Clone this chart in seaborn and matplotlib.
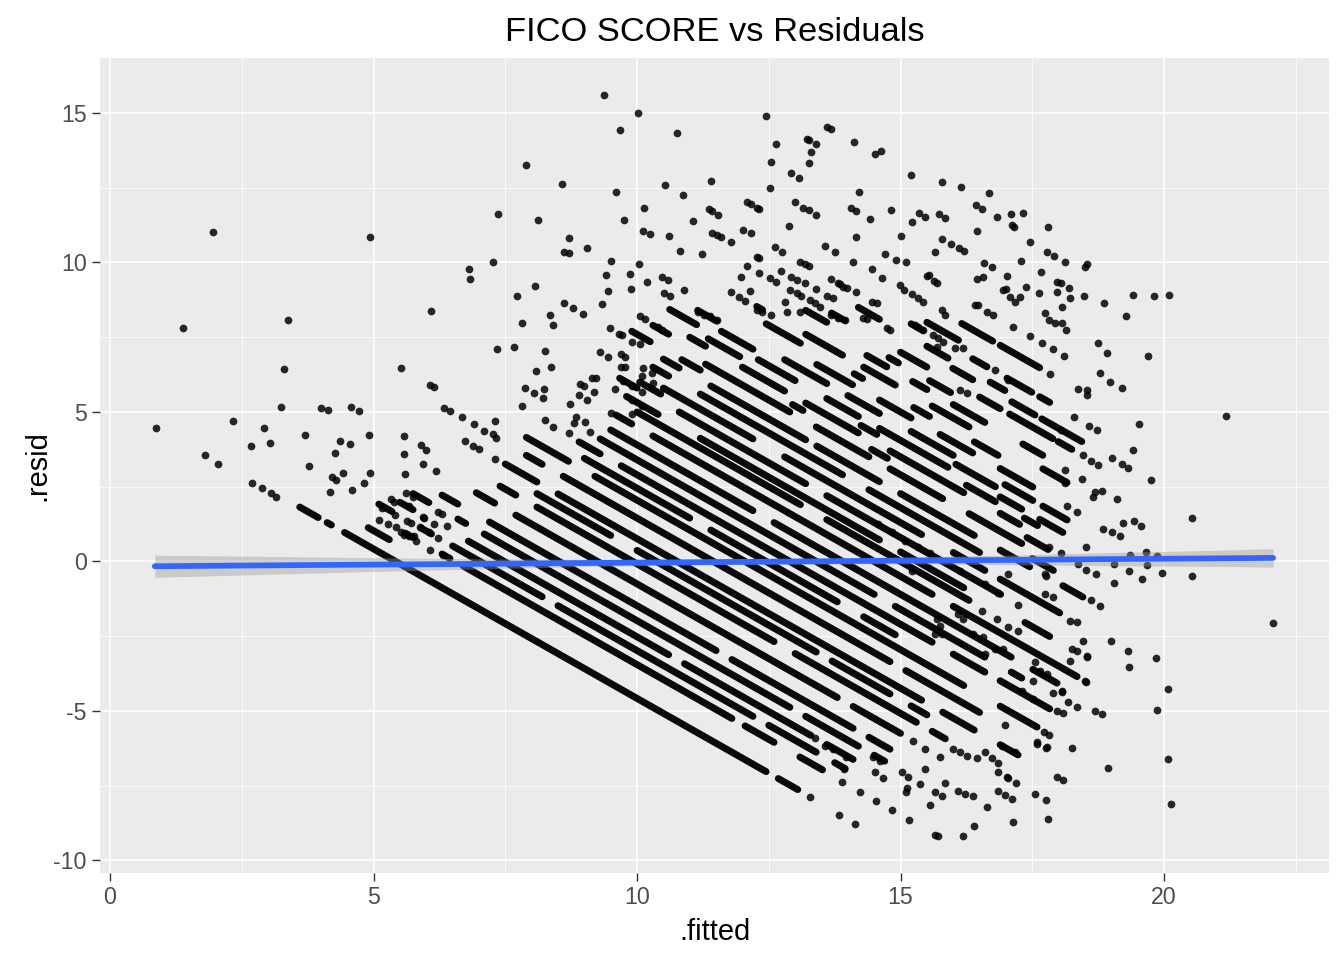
import matplotlib
matplotlib.use("Agg")
import matplotlib.pyplot as plt
import numpy as np
import pandas as pd
import seaborn as sns
from matplotlib.ticker import MultipleLocator

# ---------------- data ----------------
# dense diagonal streaks: (actual rate, fitted from, fitted to); resid = rate - fitted
low_streaks = [
    (5.42, 3.60, 3.95), (5.42, 4.12, 4.20), (5.42, 4.45, 12.45), (5.42, 12.68, 13.05),
    (6.03, 4.90, 5.30),
    (6.55, 5.60, 5.75), (6.55, 6.30, 6.45), (6.55, 6.70, 11.80), (6.55, 12.05, 12.60), (6.55, 13.09, 13.52),
    (7.02, 5.10, 5.35), (7.02, 5.90, 6.10), (7.02, 6.50, 8.20), (7.02, 8.50, 12.20), (7.02, 12.50, 13.40), (7.02, 13.75, 13.95),
    (7.48, 5.50, 5.75), (7.48, 6.80, 10.60), (7.48, 10.90, 13.30), (7.48, 13.60, 14.10),
    (8.02, 5.75, 6.05), (8.02, 6.60, 6.75), (8.02, 7.10, 12.90), (8.02, 13.20, 14.20), (8.02, 14.50, 14.70),
    (8.52, 6.30, 6.60), (8.52, 7.20, 11.50), (8.52, 11.80, 14.10), (8.52, 14.40, 14.80),
    (9.25, 6.95, 7.30), (9.25, 7.70, 13.80), (9.25, 14.10, 15.00),
    (9.92, 7.40, 7.70), (9.92, 8.10, 12.60), (9.92, 13.00, 15.30), (9.92, 15.60, 15.85),
    (10.37, 8.10, 9.50), (10.37, 10.00, 13.40), (10.37, 13.70, 14.80), (10.37, 15.20, 15.50),
    (10.76, 7.50, 8.10), (10.76, 8.50, 15.40), (10.76, 15.80, 16.40), (10.76, 16.89, 17.23),
    (11.45, 7.90, 8.20), (11.45, 8.60, 14.80), (11.45, 15.10, 16.50),
]
mid_streaks = [
    (12.05, 7.90, 8.70), (12.05, 9.20, 16.20), (12.05, 16.89, 17.59),
    (12.45, 9.00, 11.00), (12.45, 11.40, 13.80), (12.45, 14.30, 14.90),
    (12.90, 8.90, 9.30), (12.90, 9.70, 15.60), (12.90, 16.00, 16.60), (12.90, 16.89, 17.83),
    (13.40, 9.30, 14.50), (13.40, 14.90, 16.60), (13.40, 17.10, 17.30),
    (13.90, 9.50, 12.20), (13.90, 12.60, 17.10), (13.90, 17.51, 17.97),
    (14.50, 9.60, 9.90), (14.50, 10.30, 15.60), (14.50, 16.00, 18.35),
    (15.00, 10.00, 13.10), (15.00, 13.60, 16.30),
    (15.32, 9.80, 10.40), (15.32, 11.20, 14.60), (15.32, 15.00, 16.20), (15.32, 17.36, 17.83),
    (15.80, 9.67, 10.00), (15.80, 10.80, 13.20), (15.80, 13.60, 16.90),
    (16.05, 10.05, 10.45),
    (16.30, 10.50, 12.20), (16.30, 12.80, 15.40), (16.30, 16.00, 16.60), (16.30, 16.89, 18.02),
    (16.80, 10.30, 10.60), (16.80, 11.20, 13.90), (16.80, 14.40, 16.50),
    (17.27, 10.50, 10.80), (17.27, 11.40, 13.20), (17.27, 13.41, 14.60), (17.27, 15.00, 16.40),
    (17.27, 16.89, 17.45), (17.27, 18.08, 18.46),
    (17.60, 9.90, 10.25), (17.60, 10.85, 11.20), (17.60, 17.50, 17.90),
]
high_streaks = [
    (17.90, 11.30, 12.90), (17.90, 13.40, 14.40), (17.90, 14.80, 15.80), (17.90, 16.30, 17.30),
    (18.20, 10.30, 10.60), (18.20, 12.95, 13.15), (18.20, 14.45, 14.75), (18.20, 17.40, 17.80),
    (18.50, 11.00, 11.30), (18.50, 12.00, 12.80), (18.50, 13.20, 14.20), (18.50, 14.80, 16.20), (18.50, 16.89, 17.26),
    (18.80, 11.35, 11.95), (18.80, 14.25, 14.55), (18.80, 16.25, 16.80), (18.80, 17.35, 17.60),
    (19.05, 10.62, 11.13), (19.05, 12.30, 13.00), (19.05, 13.60, 14.20), (19.05, 14.60, 15.90),
    (19.05, 16.89, 17.30), (19.05, 17.64, 18.08),
    (19.30, 11.60, 12.20), (19.30, 16.05, 16.80),
    (19.55, 11.15, 11.51), (19.55, 12.80, 13.60), (19.55, 14.00, 14.60), (19.55, 15.20, 16.00),
    (19.55, 16.98, 17.51), (19.55, 17.70, 18.16),
    (20.00, 13.41, 14.09), (20.00, 14.60, 15.20), (20.00, 15.75, 16.37), (20.00, 16.89, 17.51),
    (20.40, 12.45, 13.10), (20.40, 14.12, 14.28), (20.40, 15.25, 15.55), (20.40, 16.40, 16.85),
    (20.80, 12.27, 12.38), (20.80, 13.20, 13.90), (20.80, 14.30, 14.90), (20.80, 15.60, 16.30), (20.80, 17.70, 18.16),
    (21.25, 14.36, 14.74), (21.25, 15.23, 15.50), (21.25, 16.00, 16.60), (21.25, 17.32, 17.70),
    (21.60, 13.20, 13.60), (21.60, 14.78, 14.96), (21.60, 15.55, 15.95),
    (22.00, 13.69, 13.94), (22.00, 15.00, 15.50), (22.00, 16.50, 16.89), (22.00, 17.07, 17.89), (22.00, 17.99, 18.25),
    (22.45, 15.99, 16.37), (22.45, 17.11, 17.55), (22.45, 17.68, 18.44),
    (22.70, 14.20, 14.60), (22.70, 15.50, 15.90), (22.70, 16.70, 16.98),
    (23.15, 15.20, 15.42), (23.15, 16.37, 16.64), (23.15, 17.02, 17.49), (23.15, 17.64, 17.83),
    (23.50, 15.50, 16.10),
    (24.12, 16.16, 16.75), (24.12, 16.89, 17.64),
]

# isolated points: (fitted, resid)
left_points = [
    (0.87, 4.48), (1.39, 7.82), (1.96, 11.02), (1.80, 3.57), (2.05, 3.27), (2.34, 4.71),
    (2.68, 3.87), (2.92, 4.48), (3.04, 3.97), (2.70, 2.64), (2.89, 2.47), (3.06, 2.30),
    (3.15, 2.17), (3.30, 6.45), (3.38, 8.08), (3.25, 5.18), (3.70, 4.24), (3.78, 3.21),
    (4.01, 5.14), (4.14, 5.08), (4.27, 3.64), (4.37, 4.04), (4.43, 2.97), (4.56, 3.94),
    (4.58, 5.18), (4.73, 5.04), (4.81, 2.61), (4.92, 4.24), (4.94, 2.97), (4.60, 2.40),
    (4.18, 2.34), (4.22, 2.81), (4.29, 2.74), (4.94, 10.86), (5.53, 6.48), (6.10, 8.38),
    (6.08, 5.91), (6.15, 5.84), (6.34, 5.14), (6.46, 5.04), (5.57, 4.18), (5.57, 3.61),
    (5.60, 2.91), (5.91, 3.91), (6.00, 3.74), (5.93, 3.27), (6.19, 3.01), (5.17, 1.80),
    (5.34, 2.10), (5.39, 2.00), (5.41, 1.57), (5.11, 1.40), (5.62, 2.30), (5.74, 2.17),
    (5.68, 1.84), (5.64, 1.34), (5.72, 1.30), (5.93, 1.50), (5.96, 1.47), (5.89, 1.14),
    (6.06, 0.97), (6.23, 1.67), (6.29, 1.60), (6.15, 1.27), (6.23, 0.80), (5.77, 0.84),
    (5.81, 0.67), (6.08, 0.37), (6.31, 0.23), (6.40, 1.20), (5.28, 1.27), (5.43, 1.14),
    (5.53, 1.00), (5.58, 0.90), (5.68, 0.84),
]
middle_left_points = [
    (6.67, 4.84), (6.91, 4.61), (7.10, 4.38), (7.26, 4.28), (7.33, 4.14), (6.74, 4.04),
    (6.88, 3.87), (7.01, 3.77), (7.31, 4.71), (7.31, 3.44), (7.73, 8.88), (8.07, 9.22),
    (7.81, 7.98), (8.34, 8.25), (8.40, 7.92), (8.62, 8.65), (8.79, 8.48), (8.98, 8.28),
    (9.34, 8.62), (9.42, 9.59), (9.44, 9.05), (9.86, 9.62), (9.88, 9.12), (10.18, 9.35),
    (10.48, 9.52), (10.58, 9.42), (10.90, 9.08), (10.52, 8.98), (10.62, 8.88), (9.48, 7.82),
    (9.65, 7.62), (9.71, 7.58), (7.67, 7.18), (7.35, 7.11), (8.26, 7.05), (8.09, 6.38),
    (8.36, 6.51), (7.88, 5.81), (8.05, 5.64), (8.24, 5.78), (8.21, 5.48), (7.81, 5.21),
    (8.72, 5.28), (9.29, 7.01), (9.44, 6.85), (9.69, 6.95), (9.78, 6.85), (8.91, 5.95),
    (9.00, 5.88), (8.89, 5.58), (9.06, 5.41), (9.19, 5.68), (9.15, 6.15), (9.23, 6.15),
    (9.59, 5.78), (8.26, 4.74), (8.40, 4.51), (8.85, 4.84), (8.81, 4.64), (9.02, 4.68),
    (9.10, 4.34), (8.70, 4.31), (9.50, 4.98), (9.91, 4.94), (9.90, 5.41), (10.10, 5.68),
    (10.09, 5.21), (10.09, 6.21), (10.29, 6.31), (10.31, 5.98), (10.12, 6.48), (9.74, 6.05),
    (9.91, 5.88), (10.05, 8.22), (10.16, 8.12), (10.39, 7.85), (10.48, 7.75), (9.91, 7.35),
    (10.05, 7.28), (9.69, 6.51), (9.78, 6.51),
]
top_points = [
    (9.38, 15.60), (10.01, 15.00), (9.67, 14.43), (10.75, 14.33), (12.44, 14.90), (12.63, 13.96),
    (12.54, 13.36), (12.52, 12.49), (13.22, 14.13), (13.26, 14.09), (13.39, 13.96), (13.30, 13.69),
    (13.26, 13.33), (13.60, 14.53), (13.68, 14.46), (14.11, 14.03), (14.51, 13.63), (14.62, 13.73),
    (12.92, 12.99), (13.07, 12.83), (14.21, 12.36), (7.90, 13.26), (8.57, 12.63), (9.61, 12.36),
    (10.54, 12.59), (11.40, 12.73), (10.88, 12.26), (7.37, 11.62), (8.13, 11.42), (8.70, 10.82),
    (8.62, 10.35), (8.70, 10.32), (9.06, 10.49), (9.76, 11.42), (10.14, 11.82), (10.12, 11.06),
    (10.24, 10.96), (10.60, 10.89), (10.81, 10.39), (11.07, 11.39), (11.23, 10.29), (11.36, 11.79),
    (11.43, 11.72), (11.53, 11.59), (11.43, 10.99), (11.51, 10.92), (11.59, 10.86), (11.78, 10.69),
    (12.08, 12.02), (12.16, 11.96), (12.27, 11.82), (12.31, 11.79), (12.02, 11.09), (12.17, 10.99),
    (12.27, 10.19), (12.31, 10.15), (12.08, 9.89), (12.61, 10.52), (12.76, 10.35), (12.88, 11.22),
    (12.99, 12.02), (13.14, 11.82), (13.26, 11.76), (13.39, 11.59), (13.56, 10.55), (13.75, 10.35),
    (14.06, 11.82), (14.15, 11.72), (14.42, 11.46), (14.15, 10.86), (14.70, 10.29), (14.09, 10.02),
    (13.09, 10.02), (13.18, 9.95), (13.26, 9.89), (12.74, 9.72), (12.92, 9.52), (13.03, 9.42),
    (13.18, 9.32), (12.52, 9.49), (12.63, 9.35), (13.68, 9.45), (13.85, 9.29), (13.98, 9.15),
    (14.45, 9.79), (14.64, 9.49), (14.15, 9.02), (13.39, 9.12), (12.90, 9.08), (13.03, 8.98),
    (11.97, 9.52), (12.31, 9.65), (12.14, 9.05), (11.78, 9.02), (11.93, 8.85), (10.03, 9.95),
    (9.50, 10.05), (7.26, 10.02), (6.82, 9.79), (6.84, 9.45),
]
top_right_points = [
    (15.19, 12.93), (15.78, 12.69), (16.14, 12.53), (16.68, 12.32), (14.81, 11.76), (15.35, 11.66),
    (15.46, 11.52), (15.73, 11.62), (15.84, 11.49), (16.43, 11.92), (16.54, 11.79), (16.83, 11.52),
    (17.09, 11.62), (17.32, 11.66), (17.11, 11.26), (17.15, 11.19), (17.80, 11.19), (15.21, 11.36),
    (15.00, 10.89), (15.78, 10.79), (15.95, 10.62), (16.11, 10.49), (16.20, 10.39), (16.45, 11.06),
    (15.65, 10.35), (14.91, 10.09), (15.10, 10.02), (17.45, 10.69), (17.78, 10.35), (17.91, 10.22),
    (18.12, 10.02), (18.50, 9.85), (18.54, 9.95), (17.28, 10.05), (16.58, 9.99), (16.73, 9.85),
    (17.02, 9.55), (16.45, 9.45), (16.56, 9.52), (17.66, 9.69), (17.38, 9.19), (17.00, 9.12),
    (15.50, 9.55), (15.54, 9.59), (15.63, 9.39), (15.69, 9.32), (14.99, 9.25), (15.06, 9.08),
    (15.21, 8.95), (17.97, 9.35), (18.04, 9.32), (18.20, 9.15), (17.63, 8.98), (17.97, 9.02),
    (19.41, 8.92), (19.81, 8.88), (20.09, 8.92), (18.48, 8.88), (17.07, 8.85), (17.26, 8.85),
]
center_points = [
    (12.04, 8.72), (12.80, 8.68), (13.12, 8.88), (13.28, 8.75), (13.37, 8.65), (13.47, 8.52),
    (13.60, 8.88), (13.71, 8.82), (13.81, 9.32), (13.90, 9.18), (14.45, 8.68), (14.55, 8.65),
    (15.33, 8.82), (15.42, 8.68), (16.41, 8.58), (16.47, 8.58), (15.78, 8.42), (15.84, 8.25),
    (11.15, 8.35), (11.28, 8.25), (11.38, 8.22), (11.51, 8.08), (12.27, 8.42), (12.38, 8.35),
    (12.55, 8.25), (12.84, 8.35), (13.09, 8.35), (13.69, 8.25), (13.81, 8.15), (13.94, 8.08),
    (14.28, 8.15), (14.36, 8.12), (14.74, 7.82), (14.80, 7.75), (15.27, 7.92), (15.33, 7.85),
    (15.42, 7.75), (15.61, 7.58), (15.71, 7.48), (15.80, 7.35), (16.64, 8.35), (16.75, 8.25),
    (16.03, 7.15), (16.18, 7.15), (15.69, 7.18), (16.79, 6.41), (17.04, 6.08), (16.13, 5.74),
    (16.26, 5.64),
]
right_points = [
    (18.21, 8.82), (18.86, 8.65), (19.28, 8.22), (18.06, 8.52), (17.74, 8.32), (17.82, 8.08),
    (17.93, 7.98), (18.06, 7.98), (18.14, 7.75), (17.13, 7.85), (17.45, 7.55), (17.68, 7.31),
    (17.89, 7.11), (18.10, 6.88), (18.75, 7.31), (18.92, 6.98), (19.70, 6.88), (17.83, 6.28),
    (18.37, 5.78), (18.54, 5.74), (18.54, 5.58), (18.78, 6.31), (18.97, 6.01), (19.20, 5.81),
    (21.18, 4.88), (18.29, 4.84), (19.53, 4.61), (18.58, 4.54), (18.73, 4.41), (18.04, 4.41),
    (19.41, 3.74), (19.01, 3.47), (19.20, 3.27), (19.32, 3.14), (19.75, 2.71), (18.46, 3.57),
    (18.61, 3.37), (18.75, 3.24), (18.44, 2.77), (18.12, 3.07), (18.12, 2.64), (18.69, 2.34),
    (18.82, 2.37), (18.65, 2.14), (19.11, 2.10), (20.53, 1.47), (18.16, 1.84), (18.35, 1.67),
    (19.22, 1.30), (19.43, 1.34), (19.56, 1.20), (18.84, 1.10), (19.01, 1.00), (19.16, 0.84),
    (18.52, 0.50), (19.66, 0.33), (19.35, 0.23), (19.87, 0.17), (19.05, -0.07), (19.68, -0.13),
    (19.34, -0.33), (19.58, -0.57), (19.96, -0.40), (20.53, -0.50), (18.71, -0.43), (18.52, -0.27),
    (19.05, -0.73), (18.61, -1.30), (18.78, -1.50), (17.76, -0.47), (18.37, -0.10), (18.04, 0.27),
    (17.82, 0.47), (16.94, 9.08), (17.17, 8.68),
]
lower_right_points = [
    (22.07, -2.07), (18.99, -2.67), (19.32, -3.00), (19.34, -3.54), (19.85, -3.24), (20.08, -4.28),
    (19.87, -4.98), (20.08, -6.61), (20.13, -8.12), (18.94, -6.91), (18.69, -5.01), (18.82, -5.11),
    (18.52, -4.04), (18.54, -3.21), (18.46, -2.67), (18.25, -6.25), (17.97, -7.21), (18.08, -7.31),
    (17.55, -7.78), (17.76, -7.98), (17.80, -8.62), (17.13, -8.72), (17.59, -6.11), (17.76, -6.25),
    (17.72, -5.71), (17.82, -5.81), (16.98, -7.82), (17.11, -7.95), (17.04, -7.25), (17.19, -7.41),
    (16.98, -5.48), (18.25, -2.94), (18.35, -3.00), (18.21, -3.34), (18.18, -4.71), (18.35, -4.88),
    (18.06, -4.38), (17.89, -4.41), (17.97, -5.01), (18.08, -5.08),
]
bottom_points = [
    (13.28, -7.88), (13.83, -8.48), (14.13, -8.78), (13.88, -7.38), (13.92, -6.95), (13.96, -6.55),
    (14.23, -7.72), (14.53, -8.02), (14.83, -8.32), (15.16, -8.65), (15.65, -9.15), (15.71, -9.18),
    (16.18, -9.18), (16.39, -8.85), (16.64, -8.22), (15.56, -8.15), (15.78, -7.85), (15.65, -7.72),
    (16.09, -7.68), (16.22, -7.78), (16.37, -7.85), (15.84, -7.41), (15.12, -7.58), (15.10, -7.72),
    (15.02, -7.05), (15.14, -7.21), (15.37, -7.45), (15.46, -6.95), (14.51, -7.05), (14.66, -7.25),
    (14.47, -6.55), (14.61, -6.68), (13.37, -5.91), (13.56, -6.18), (13.71, -6.28), (16.85, -7.05),
    (17.02, -7.21), (16.60, -6.38), (16.73, -6.58), (16.85, -6.75), (16.00, -6.28), (16.13, -6.38),
    (16.26, -6.51), (16.45, -6.58), (16.92, -6.18), (17.17, -6.38), (15.23, -6.01), (15.46, -6.28),
    (15.75, -6.55), (16.85, -7.68),
]
mid_right_points = [
    (15.21, -0.33), (16.13, -0.33), (17.04, -0.43), (17.74, -0.43), (16.85, -1.04), (17.23, -1.44),
    (16.54, -1.67), (16.83, -1.94), (17.04, -2.20), (17.23, -2.34), (17.74, -1.10), (17.89, -1.20),
    (18.21, -2.00), (18.35, -2.04), (18.54, -3.17), (18.50, -4.01), (15.56, 0.30), (15.33, 0.47),
    (15.08, 0.67), (14.83, 0.97), (14.57, 1.24), (16.60, -0.77), (15.69, -1.94), (15.75, -2.17),
    (16.09, -1.77), (16.18, -1.94), (15.65, -2.44), (15.78, -2.44), (16.37, -2.44), (16.56, -2.54),
    (16.79, -2.94), (16.94, -2.94), (16.60, -3.11), (17.55, -3.37), (17.64, -3.67), (17.78, -3.77),
    (17.51, -4.01), (18.06, -4.34), (17.30, -4.34), (17.51, -4.61), (17.59, -6.05), (17.78, -6.21),
]

# linear smooth (geom_smooth, method = lm) with its confidence band
fit_x = [0.85, 3.0, 5.0, 7.0, 9.0, 11.0, 13.0, 15.0, 17.0, 19.0, 21.0, 22.07]
fit_y = [-0.16, -0.13, -0.105, -0.08, -0.05, -0.025, 0.0, 0.03, 0.05, 0.08, 0.105, 0.12]
fit_lo = [-0.53, -0.43, -0.335, -0.25, -0.17, -0.115, -0.09, -0.08, -0.11, -0.14, -0.165, -0.19]
fit_hi = [0.21, 0.17, 0.125, 0.09, 0.07, 0.065, 0.09, 0.14, 0.21, 0.30, 0.375, 0.43]

x_ticks = [0, 5, 10, 15, 20]
y_ticks = [-10, -5, 0, 5, 10, 15]
title = "FICO SCORE vs Residuals"
x_label = ".fitted"
y_label = ".resid"

# ---------------- build tables ----------------
seg_rows = []
for i, (rate, f0, f1) in enumerate(low_streaks + mid_streaks + high_streaks):
    seg_rows.append((i, f0, rate - f0))
    seg_rows.append((i, f1, rate - f1))
streak_df = pd.DataFrame(seg_rows, columns=["seg", "fitted", "resid"])

all_points = (left_points + middle_left_points + top_points + top_right_points + center_points
              + right_points + lower_right_points + bottom_points + mid_right_points)
point_df = pd.DataFrame(all_points, columns=["fitted", "resid"])

# ---------------- style ----------------
sns.set_theme(style="darkgrid", rc={
    "axes.facecolor": "#EBEBEB",
    "figure.facecolor": "white",
    "grid.color": "white",
    "axes.edgecolor": "none",
    "axes.unicode_minus": False,
})
plt.rcParams["font.family"] = ["Liberation Sans", "DejaVu Sans"]

fig = plt.figure(figsize=(13.44, 9.6), dpi=100)
ax = fig.add_axes([100 / 1344, 87 / 960, 1229 / 1344, 815 / 960])

# streaks of overlapping points
sns.lineplot(data=streak_df, x="fitted", y="resid", units="seg", estimator=None, sort=False,
             color="#0a0a0a", lw=5.0, alpha=1.0, solid_capstyle="round", ax=ax, legend=False, zorder=2)
# individual points
sns.scatterplot(data=point_df, x="fitted", y="resid", color="black", alpha=0.84, s=31,
                linewidth=0, ax=ax, legend=False, zorder=2)
# smooth band and line
ax.fill_between(fit_x, fit_lo, fit_hi, color="#999999", alpha=0.4, lw=0, zorder=3)
sns.lineplot(x=fit_x, y=fit_y, color="#3366FF", lw=4.1, ax=ax, zorder=4, sort=False)

ax.set_xlim(-0.19, 23.13)
ax.set_ylim(-10.42, 16.84)
ax.set_xticks(x_ticks)
ax.set_yticks(y_ticks)
ax.xaxis.set_minor_locator(MultipleLocator(2.5))
ax.yaxis.set_minor_locator(MultipleLocator(2.5))
ax.set_axisbelow(True)
ax.grid(which="major", color="white", lw=1.15)
ax.grid(which="minor", color="white", lw=0.55)
ax.tick_params(which="major", length=5.5, width=1.0, color="#333333", labelcolor="#4D4D4D",
               labelsize=16.7, pad=4, bottom=True, left=True)
ax.tick_params(which="minor", length=0)
for sp in ax.spines.values():
    sp.set_visible(False)

ax.set_title(title, fontsize=24.8, color="black", pad=12)
ax.set_xlabel(x_label, fontsize=20.9, color="black")
ax.set_ylabel(y_label, fontsize=20.9, color="black")
ax.xaxis.set_label_coords(0.5, -0.0552)
ax.yaxis.set_label_coords(-0.0399, 0.5)

fig.savefig("out.png", dpi=100)
